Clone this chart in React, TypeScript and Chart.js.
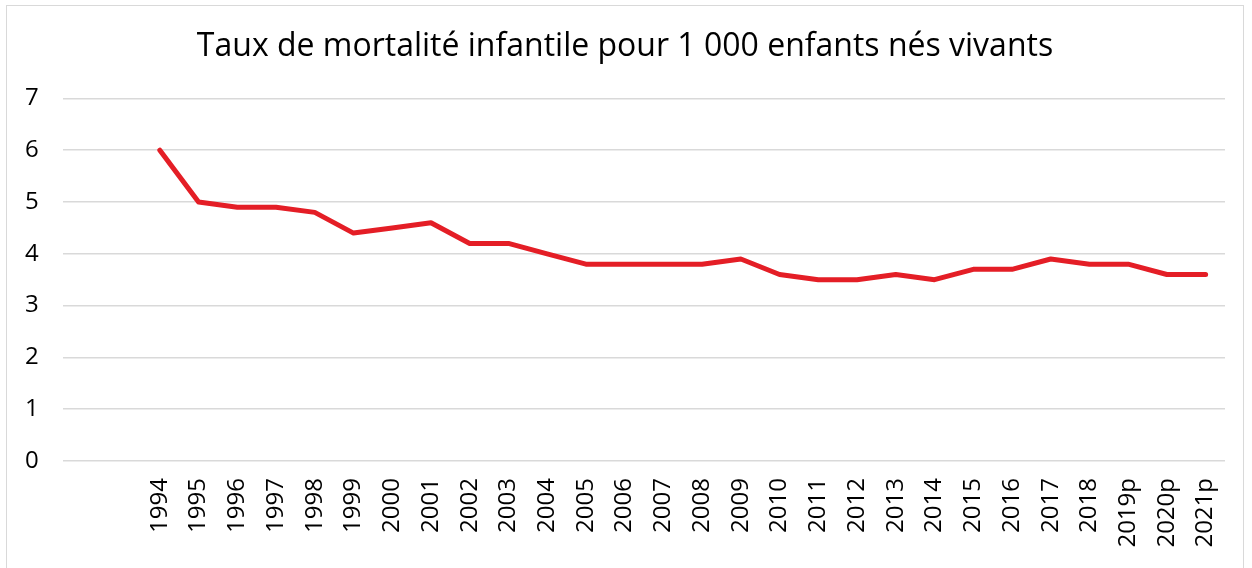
import React, { useEffect, useRef } from "react";
import { Chart, registerables } from "chart.js";

Chart.register(...registerables);

const categories: string[] = [
  "", "",
  "1994", "1995", "1996", "1997", "1998", "1999", "2000", "2001", "2002", "2003",
  "2004", "2005", "2006", "2007", "2008", "2009", "2010", "2011", "2012", "2013",
  "2014", "2015", "2016", "2017", "2018", "2019p", "2020p", "2021p",
];

const mortalityRate: (number | null)[] = [
  null, null,
  6.0, 5.0, 4.9, 4.9, 4.8, 4.4, 4.5, 4.6, 4.2, 4.2,
  4.0, 3.8, 3.8, 3.8, 3.8, 3.9, 3.6, 3.5, 3.5, 3.6,
  3.5, 3.7, 3.7, 3.9, 3.8, 3.8, 3.6, 3.6,
];

const titleText = "Taux de mortalité infantile pour 1 000 enfants nés vivants";
const FONT = "'Open Sans', sans-serif";

export default function App() {
  const canvasRef = useRef<HTMLCanvasElement>(null);

  useEffect(() => {
    if (!canvasRef.current) return;
    const chart = new Chart(canvasRef.current, {
      type: "line",
      data: {
        labels: categories,
        datasets: [
          {
            data: mortalityRate,
            borderColor: "#E41E26",
            backgroundColor: "#E41E26",
            borderWidth: 5,
            pointRadius: 0,
            borderCapStyle: "round",
            borderJoinStyle: "round",
            tension: 0,
            spanGaps: false,
          },
        ],
      },
      options: {
        responsive: false,
        animation: false,
        layout: { padding: { left: 25, right: 27, top: 28, bottom: 0 } },
        plugins: {
          legend: { display: false },
          tooltip: { enabled: false },
          title: {
            display: true,
            text: titleText,
            color: "#000000",
            font: { family: FONT, size: 32, weight: "normal" },
            padding: { top: 0, bottom: 32 },
          },
        },
        scales: {
          x: {
            offset: true,
            grid: { display: false, drawTicks: false },
            border: { display: false },
            ticks: {
              autoSkip: false,
              maxRotation: 90,
              minRotation: 90,
              padding: 17,
              color: "#000000",
              font: { family: FONT, size: 24 },
            },
            afterFit: (scale: any) => {
              scale.height = 107;
            },
          },
          y: {
            min: 0,
            max: 7,
            grid: { color: "#D9D9D9", lineWidth: 1.5, drawTicks: false },
            border: { display: false },
            ticks: {
              stepSize: 1,
              crossAlign: "far",
              padding: 0,
              color: "#000000",
              font: { family: FONT, size: 24 },
            },
            afterFit: (scale: any) => {
              scale.width = 38;
            },
          },
        },
      },
    });
    return () => chart.destroy();
  }, []);

  return (
    <div style={{ position: "fixed", left: 0, top: 0, width: 1252, height: 568, background: "#fff", overflow: "hidden" }}>
      <div
        style={{
          position: "absolute",
          left: 6,
          top: 5,
          width: 1238,
          height: 600,
          border: "1.5px solid #D9D9D9",
          boxSizing: "border-box",
        }}
      />
      <canvas ref={canvasRef} width={1252} height={568} style={{ position: "absolute", left: 0, top: 0 }} />
    </div>
  );
}
